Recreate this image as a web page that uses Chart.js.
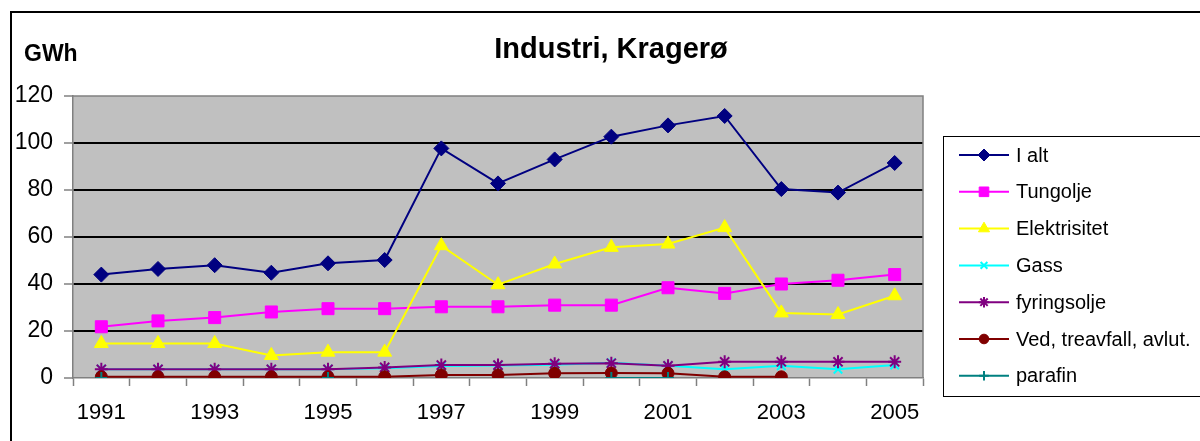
<!DOCTYPE html>
<html>
<head>
<meta charset="utf-8">
<script src="https://cdn.jsdelivr.net/npm/chart.js"></script>
<style>
  body { margin: 0; background: #fff; }
  #wrap { width: 1200px; height: 441px; }
</style>
</head>
<body>
<div id="wrap"><canvas id="chart" width="1200" height="441"></canvas></div>
<script>
const years = ["1991", "1992", "1993", "1994", "1995", "1996", "1997", "1998", "1999", "2000", "2001", "2002", "2003", "2004", "2005"];
const iAlt = [44, 46.4, 48, 44.8, 48.8, 50.2, 97.7, 82.8, 93, 102.7, 107.5, 111.5, 80.4, 78.9, 91.5];
const tungolje = [21.8, 24.3, 25.7, 28.1, 29.5, 29.5, 30.3, 30.3, 31, 31, 38.4, 36, 40, 41.6, 44];
const elektrisitet = [14.7, 14.7, 14.7, 9.6, 11, 11, 56.3, 39.7, 48.5, 55.6, 57, 64, 27.7, 27, 35];
const gass = [3.7, 3.7, 3.7, 3.7, 3.7, 4.1, 5.1, 5.3, 5.6, 6.5, 5.2, 3.7, 5.2, 3.7, 5.5];
const fyringsolje = [3.7, 3.7, 3.7, 3.7, 3.7, 4.5, 5.5, 5.5, 6.1, 6.3, 5.2, 6.9, 6.9, 6.9, 6.9];
const ved = [0.5, 0.5, 0.5, 0.5, 0.5, 0.5, 1.3, 1.3, 2, 2.1, 2, 0.5, 0.5, null, null];
const parafin = [0, null, null, null, 0, null, null, null, null, 0, 0, null, null, null, null];
const yTicks = [0, 20, 40, 60, 80, 100, 120];

const chartTitle = "Industri, Kragerø";
const unitLabel = "GWh";
const fontFamily = '"Liberation Sans", Arial, sans-serif';

function makeSeries(label, data, color, pointStyle, radius, pointBorderWidth, index){
    return {
        label: label,
        data: data,
        borderColor: color,
        backgroundColor: color,
        pointBackgroundColor: color,
        pointBorderColor: color,
        pointStyle: pointStyle,
        pointRadius: radius,
        pointHoverRadius: radius,
        pointBorderWidth: pointBorderWidth,
        borderWidth: 2,
        tension: 0,
        spanGaps: false,
        order: 10 - index
    };
}

const excelFrame = {
    id: "excelFrame",
    beforeDraw(chart){
        const { ctx, chartArea: a } = chart;
        ctx.save();
        ctx.fillStyle = "#fff";
        ctx.fillRect(0, 0, chart.width, chart.height);
        ctx.fillStyle = "#c0c0c0";
        ctx.fillRect(a.left, a.top, a.right - a.left, a.bottom - a.top);
        ctx.restore();
    },
    beforeDatasetsDraw(chart){
        const { ctx, chartArea: a } = chart;
        ctx.save();
        ctx.strokeStyle = "#808080";
        ctx.lineWidth = 1.5;
        ctx.beginPath();
        ctx.moveTo(a.left, a.top);
        ctx.lineTo(a.right, a.top);
        ctx.lineTo(a.right, a.bottom);
        ctx.stroke();
        ctx.restore();
    },
    afterDraw(chart){
        const ctx = chart.ctx;
        ctx.save();
        // outer chart border
        ctx.strokeStyle = "#000";
        ctx.lineWidth = 2;
        ctx.strokeRect(11, 12, 1300, 500);

        // titles
        ctx.fillStyle = "#000";
        ctx.textBaseline = "alphabetic";
        ctx.textAlign = "center";
        ctx.font = "bold 29px " + fontFamily;
        ctx.fillText(chartTitle, 611, 58);
        ctx.textAlign = "left";
        ctx.font = "bold 23px " + fontFamily;
        ctx.fillText(unitLabel, 24, 61);

        // legend
        ctx.lineWidth = 1;
        ctx.strokeStyle = "#000";
        ctx.strokeRect(943.5, 136.5, 300, 260);
        ctx.font = "20px " + fontFamily;
        ctx.textBaseline = "middle";
        chart.data.datasets.forEach((ds, i) => {
            const y = 155 + i * 36.8;
            ctx.strokeStyle = ds.borderColor;
            ctx.lineWidth = 2;
            ctx.beginPath();
            ctx.moveTo(959, y);
            ctx.lineTo(1009, y);
            ctx.stroke();
            ctx.fillStyle = ds.pointBackgroundColor;
            ctx.strokeStyle = ds.pointBorderColor;
            ctx.lineWidth = ds.pointBorderWidth;
            Chart.helpers.drawPoint(ctx, {
                pointStyle: ds.pointStyle,
                radius: ds.pointRadius * 0.8,
                borderWidth: ds.pointBorderWidth,
                rotation: 0
            }, 984, y);
            ctx.fillStyle = "#000";
            ctx.fillText(ds.label, 1016, y + 1);
        });
        ctx.restore();
    }
};

window.addEventListener("DOMContentLoaded", () => {
    const canvas = document.getElementById("chart");
    new Chart(canvas, {
        type: "line",
        data: {
            labels: years,
            datasets: [
                makeSeries("I alt", iAlt, "#000080", "rectRot", 7.5, 1, 0),
                makeSeries("Tungolje", tungolje, "#ff00ff", "rect", 8.5, 1, 1),
                makeSeries("Elektrisitet", elektrisitet, "#ffff00", "triangle", 8, 1, 2),
                makeSeries("Gass", gass, "#00ffff", "crossRot", 6, 2, 3),
                makeSeries("fyringsolje", fyringsolje, "#800080", "star", 6.5, 2, 4),
                makeSeries("Ved, treavfall, avlut.", ved, "#800000", "circle", 6, 1, 5),
                makeSeries("parafin", parafin, "#008080", "cross", 6, 2, 6)
            ]
        },
        options: {
            responsive: false,
            animation: false,
            layout: { padding: { top: 96, right: 277, left: 0, bottom: 0 } },
            plugins: {
                legend: { display: false },
                title: { display: false },
                tooltip: { enabled: false }
            },
            scales: {
                x: {
                    offset: true,
                    grid: { offset: true, drawOnChartArea: false, tickLength: 8, tickColor: "#808080", tickWidth: 1.5 },
                    border: { color: "#808080", width: 1.5 },
                    ticks: {
                        autoSkip: false,
                        maxRotation: 0,
                        padding: 14,
                        color: "#000",
                        font: { size: 22, family: fontFamily },
                        callback: (value, index) => index % 2 === 0 ? years[index] : ""
                    },
                    afterFit: scale => { scale.height = 63; }
                },
                y: {
                    min: yTicks[0],
                    max: yTicks[yTicks.length - 1],
                    afterBuildTicks: scale => { scale.ticks = yTicks.map(v => ({ value: v })); },
                    grid: {
                        color: c => (c.tick && (c.tick.value === 0 || c.tick.value === 120)) ? "rgba(0,0,0,0)" : "#000",
                        lineWidth: 2,
                        tickLength: 9,
                        tickColor: "#808080",
                        tickWidth: 1.5
                    },
                    border: { color: "#808080", width: 1.5 },
                    ticks: { padding: 11, color: "#000", font: { size: 23, family: fontFamily } },
                    afterFit: scale => { scale.width = 73; }
                }
            }
        },
        plugins: [excelFrame]
    });
});
</script>
</body>
</html>
